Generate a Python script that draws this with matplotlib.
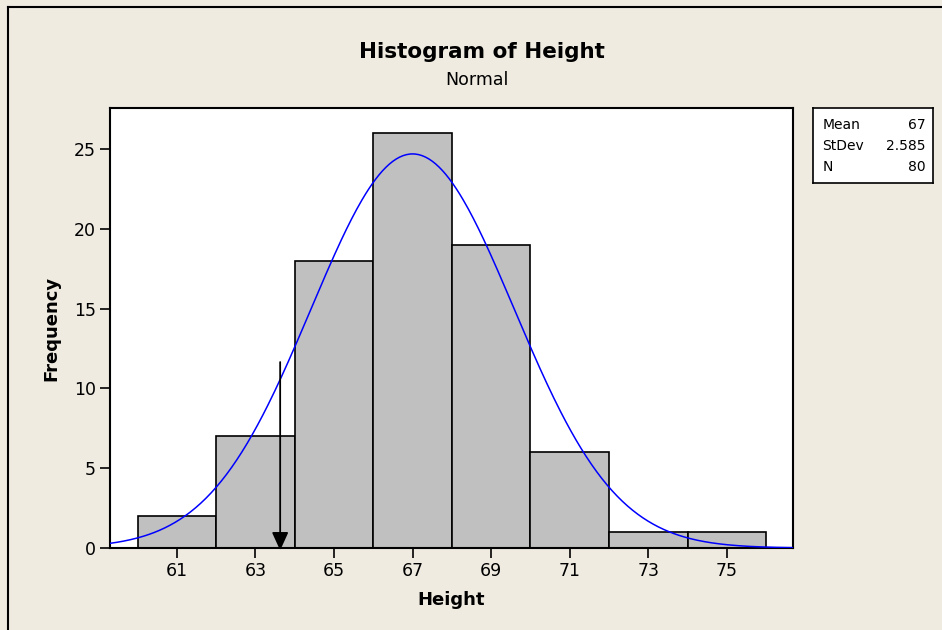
import numpy as np
import matplotlib.pyplot as plt
from matplotlib.lines import Line2D

# histogram data
bin_edges = [60, 62, 64, 66, 68, 70, 72, 74, 76]
counts = [2, 7, 18, 26, 19, 6, 1, 1]
x_ticks = [61, 63, 65, 67, 69, 71, 73, 75]
y_ticks = [0, 5, 10, 15, 20, 25]
mean, stdev, n = 67, 2.585, 80
arrow_x, arrow_top = 63.63, 11.65

bg = '#efebe1'
plt.rcParams['font.family'] = ['DejaVu Sans']

fig = plt.figure(figsize=(9.42, 6.3), dpi=100, facecolor=bg)
ax = fig.add_axes([110/942, 1-548/630, (793-110)/942, (548-108)/630])
ax.set_facecolor('white')

widths = np.diff(bin_edges)
ax.bar(bin_edges[:-1], counts, width=widths, align='edge',
       color='#c0c0c0', edgecolor='black', linewidth=1.2, zorder=2)

# fitted normal curve
xs = np.linspace(59.3, 76.7, 400)
pdf = np.exp(-0.5*((xs-mean)/stdev)**2)/(stdev*np.sqrt(2*np.pi))
ax.plot(xs, pdf*n*2, color='#0000ff', lw=1.1, zorder=3)

# arrow marker
ax.annotate('', xy=(arrow_x, -0.15), xytext=(arrow_x, arrow_top),
            arrowprops=dict(arrowstyle='-|>,head_length=1.1,head_width=0.5',
                            color='black', lw=1.3, shrinkA=0, shrinkB=0),
            zorder=4, annotation_clip=False)

ax.set_xlim(59.3, 76.68)
ax.set_ylim(0, 27.57)
ax.set_xticks(x_ticks)
ax.set_yticks(y_ticks)
ax.tick_params(direction='out', length=7, width=1.2, labelsize=12.5, pad=3)
for s in ax.spines.values():
    s.set_linewidth(1.5)

ax.set_xlabel('Height', fontsize=13, fontweight='bold', labelpad=8)
ax.set_ylabel('Frequency', fontsize=13, fontweight='bold', labelpad=10)

fig.text(482/942, 1-52/630, 'Histogram of Height', ha='center', va='center',
         fontsize=15.5, fontweight='bold')
fig.text(477/942, 1-80/630, 'Normal', ha='center', va='center', fontsize=12.5)

# stats box
box = fig.add_axes([813/942, 1-183/630, 120/942, 75/630])
box.set_xticks([]); box.set_yticks([])
box.set_facecolor('white')
for s in box.spines.values():
    s.set_linewidth(1.2)
rows = [('Mean', '67'), ('StDev', '2.585'), ('N', '80')]
for i, (k, v) in enumerate(rows):
    yy = 0.77 - i*0.28
    box.text(0.08, yy, k, transform=box.transAxes, va='center', fontsize=10)
    box.text(0.94, yy, v, transform=box.transAxes, va='center', ha='right', fontsize=10)

# frame lines along top and left of the window
fig.add_artist(Line2D([8/942, 8/942], [0, 1-7/630], color='black', lw=1.5))
fig.add_artist(Line2D([8/942, 1], [1-7/630, 1-7/630], color='black', lw=1.5))

fig.savefig('out.png', dpi=100, facecolor=bg)
